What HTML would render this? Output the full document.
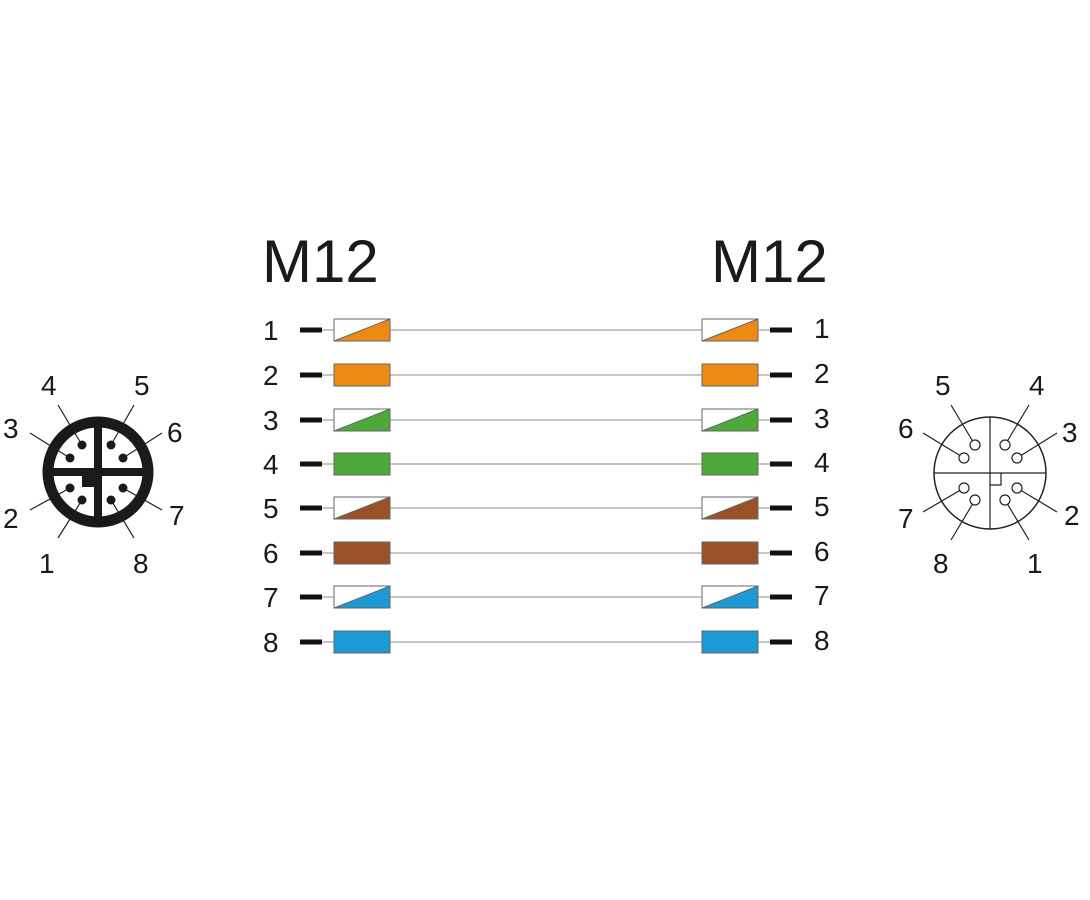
<!DOCTYPE html>
<html><head><meta charset="utf-8"><style>
html,body{margin:0;padding:0;background:#fff;}
svg{display:block;}
text{font-family:"Liberation Sans",Arial,sans-serif;fill:#1a1a1a;}
</style></head><body>
<svg width="1090" height="900" viewBox="0 0 1090 900" xmlns="http://www.w3.org/2000/svg">
<rect width="1090" height="900" fill="#fff"/>
<text x="262" y="282" font-size="60">M12</text>
<text x="711" y="282" font-size="60">M12</text>
<g stroke="#c6c6c6" stroke-width="2">
<line x1="322" y1="330" x2="770" y2="330"/><line x1="322" y1="375" x2="770" y2="375"/>
<line x1="322" y1="420" x2="770" y2="420"/><line x1="322" y1="464" x2="770" y2="464"/>
<line x1="322" y1="508" x2="770" y2="508"/><line x1="322" y1="553" x2="770" y2="553"/>
<line x1="322" y1="597" x2="770" y2="597"/><line x1="322" y1="642" x2="770" y2="642"/>
</g>
<g stroke="#111" stroke-width="5">
<line x1="300" y1="330" x2="322" y2="330"/><line x1="770" y1="330" x2="792" y2="330"/>
<line x1="300" y1="375" x2="322" y2="375"/><line x1="770" y1="375" x2="792" y2="375"/>
<line x1="300" y1="420" x2="322" y2="420"/><line x1="770" y1="420" x2="792" y2="420"/>
<line x1="300" y1="464" x2="322" y2="464"/><line x1="770" y1="464" x2="792" y2="464"/>
<line x1="300" y1="508" x2="322" y2="508"/><line x1="770" y1="508" x2="792" y2="508"/>
<line x1="300" y1="553" x2="322" y2="553"/><line x1="770" y1="553" x2="792" y2="553"/>
<line x1="300" y1="597" x2="322" y2="597"/><line x1="770" y1="597" x2="792" y2="597"/>
<line x1="300" y1="642" x2="322" y2="642"/><line x1="770" y1="642" x2="792" y2="642"/>
</g>
<g stroke="#666" stroke-width="1">
<rect x="334" y="319" width="56" height="22" fill="#fff"/><polygon points="334,341 390,319 390,341" fill="#ee8a14"/>
<rect x="702" y="319" width="56" height="22" fill="#fff"/><polygon points="702,341 758,319 758,341" fill="#ee8a14"/>
<rect x="334" y="364" width="56" height="22" fill="#ee8a14"/>
<rect x="702" y="364" width="56" height="22" fill="#ee8a14"/>
<rect x="334" y="409" width="56" height="22" fill="#fff"/><polygon points="334,431 390,409 390,431" fill="#4ea83a"/>
<rect x="702" y="409" width="56" height="22" fill="#fff"/><polygon points="702,431 758,409 758,431" fill="#4ea83a"/>
<rect x="334" y="453" width="56" height="22" fill="#4ea83a"/>
<rect x="702" y="453" width="56" height="22" fill="#4ea83a"/>
<rect x="334" y="497" width="56" height="22" fill="#fff"/><polygon points="334,519 390,497 390,519" fill="#9a5128"/>
<rect x="702" y="497" width="56" height="22" fill="#fff"/><polygon points="702,519 758,497 758,519" fill="#9a5128"/>
<rect x="334" y="542" width="56" height="22" fill="#9a5128"/>
<rect x="702" y="542" width="56" height="22" fill="#9a5128"/>
<rect x="334" y="586" width="56" height="22" fill="#fff"/><polygon points="334,608 390,586 390,608" fill="#1b9ad6"/>
<rect x="702" y="586" width="56" height="22" fill="#fff"/><polygon points="702,608 758,586 758,608" fill="#1b9ad6"/>
<rect x="334" y="631" width="56" height="22" fill="#1b9ad6"/>
<rect x="702" y="631" width="56" height="22" fill="#1b9ad6"/>
</g>
<g font-size="28">
<text x="263" y="340">1</text><text x="814" y="338">1</text>
<text x="263" y="385">2</text><text x="814" y="383">2</text>
<text x="263" y="430">3</text><text x="814" y="428">3</text>
<text x="263" y="474">4</text><text x="814" y="472">4</text>
<text x="263" y="518">5</text><text x="814" y="516">5</text>
<text x="263" y="563">6</text><text x="814" y="561">6</text>
<text x="263" y="607">7</text><text x="814" y="605">7</text>
<text x="263" y="652">8</text><text x="814" y="650">8</text>
</g>
<g stroke="#222" stroke-width="1.2">
<line x1="58" y1="405" x2="82" y2="445"/><line x1="30" y1="433" x2="70" y2="458"/>
<line x1="134" y1="405" x2="111" y2="445"/><line x1="162" y1="433" x2="123" y2="458"/>
<line x1="30" y1="510" x2="70" y2="488"/><line x1="58" y1="538" x2="82" y2="500"/>
<line x1="134" y1="538" x2="111" y2="500"/><line x1="162" y1="510" x2="123" y2="488"/>
</g>
<circle cx="98" cy="472" r="50" fill="none" stroke="#1a1a1a" stroke-width="11"/>
<line x1="98" y1="421" x2="98" y2="523" stroke="#1a1a1a" stroke-width="8"/>
<line x1="47" y1="472" x2="149" y2="472" stroke="#1a1a1a" stroke-width="8"/>
<rect x="82" y="472" width="16" height="15" fill="#1a1a1a"/>
<g fill="#1a1a1a">
<circle cx="82" cy="445" r="4.5"/><circle cx="70" cy="458" r="4.5"/>
<circle cx="111" cy="445" r="4.5"/><circle cx="123" cy="458" r="4.5"/>
<circle cx="70" cy="488" r="4.5"/><circle cx="82" cy="500" r="4.5"/>
<circle cx="111" cy="500" r="4.5"/><circle cx="123" cy="488" r="4.5"/>
</g>
<g font-size="28">
<text x="41" y="395">4</text><text x="134" y="395">5</text>
<text x="3" y="438">3</text><text x="167" y="442">6</text>
<text x="3" y="528">2</text><text x="169" y="525">7</text>
<text x="39" y="573">1</text><text x="133" y="573">8</text>
</g>
<g stroke="#222" stroke-width="1.2" fill="none">
<circle cx="990" cy="473" r="56" stroke-width="1.5"/>
<line x1="990" y1="417" x2="990" y2="529"/><line x1="934" y1="473" x2="1046" y2="473"/>
<polyline points="990,485 1001,485 1001,473"/>
<line x1="951" y1="405" x2="975" y2="445"/><line x1="923" y1="433" x2="964" y2="458"/>
<line x1="1029" y1="405" x2="1005" y2="445"/><line x1="1057" y1="433" x2="1017" y2="458"/>
<line x1="923" y1="512" x2="964" y2="488"/><line x1="951" y1="540" x2="975" y2="500"/>
<line x1="1029" y1="540" x2="1005" y2="500"/><line x1="1057" y1="512" x2="1017" y2="488"/>
</g>
<g fill="#fff" stroke="#222" stroke-width="1.2">
<circle cx="975" cy="445" r="5"/><circle cx="964" cy="458" r="5"/>
<circle cx="1005" cy="445" r="5"/><circle cx="1017" cy="458" r="5"/>
<circle cx="964" cy="488" r="5"/><circle cx="975" cy="500" r="5"/>
<circle cx="1005" cy="500" r="5"/><circle cx="1017" cy="488" r="5"/>
</g>
<g font-size="28">
<text x="935" y="395">5</text><text x="1029" y="395">4</text>
<text x="898" y="438">6</text><text x="1062" y="442">3</text>
<text x="898" y="528">7</text><text x="1064" y="525">2</text>
<text x="933" y="573">8</text><text x="1027" y="573">1</text>
</g>
</svg>
</body></html>
